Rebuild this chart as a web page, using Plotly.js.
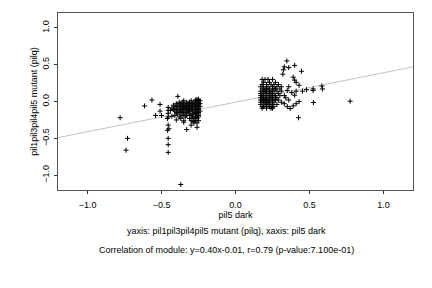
<!DOCTYPE html>
<html>
<head>
<meta charset="utf-8">
<script src="https://cdn.plot.ly/plotly-3.0.1.min.js"></script>
<style>html,body{margin:0;padding:0;background:#fff;}#chart{width:432px;height:288px;}</style>
</head>
<body>
<div id="chart"></div>
<script>
// Data: [pil5 dark, pil1pil3pil4pil5 mutant (pilq)]
const leftOutliers = [
  [-0.78,-0.22],[-0.73,-0.50],[-0.74,-0.66],[-0.615,-0.06],[-0.565,0.02],[-0.54,-0.19],
  [-0.51,-0.04],[-0.51,-0.13],[-0.50,-0.19],[-0.39,0.07],[-0.37,-1.125],
  [-0.455,-0.08],[-0.455,-0.12],[-0.455,-0.16],[-0.455,-0.21],[-0.46,-0.23],[-0.455,-0.32],
  [-0.45,-0.37],[-0.46,-0.39],[-0.455,-0.50],[-0.455,-0.585],[-0.455,-0.69],
  [-0.33,-0.38],[-0.30,-0.32],[-0.26,-0.35],[-0.286,-0.27],[-0.44,-0.12],[-0.43,-0.20],
  [-0.40,-0.25],[-0.35,-0.28]
];
const leftCluster = [
  [-0.26,0.03],[-0.25,0.03],[-0.27,0.02],
  [-0.35,0.01],[-0.30,0.01],[-0.27,0.01],[-0.25,0.01],[-0.24,0.01],
  [-0.38,-0.01],[-0.36,-0.01],[-0.33,-0.01],[-0.31,-0.01],[-0.28,-0.01],[-0.26,-0.01],[-0.25,-0.01],
  [-0.40,-0.03],[-0.37,-0.03],[-0.35,-0.03],[-0.32,-0.03],[-0.30,-0.03],[-0.29,-0.03],[-0.27,-0.03],[-0.25,-0.03],[-0.24,-0.03],
  [-0.42,-0.05],[-0.39,-0.05],[-0.36,-0.05],[-0.34,-0.05],[-0.33,-0.05],[-0.31,-0.05],[-0.28,-0.05],[-0.26,-0.05],[-0.25,-0.05],
  [-0.41,-0.07],[-0.38,-0.07],[-0.37,-0.07],[-0.35,-0.07],[-0.32,-0.07],[-0.30,-0.07],[-0.29,-0.07],[-0.27,-0.07],[-0.24,-0.07],
  [-0.43,-0.09],[-0.40,-0.09],[-0.36,-0.09],[-0.34,-0.09],[-0.33,-0.09],[-0.31,-0.09],[-0.28,-0.09],[-0.26,-0.09],[-0.25,-0.09],
  [-0.42,-0.11],[-0.39,-0.11],[-0.37,-0.11],[-0.35,-0.11],[-0.32,-0.11],[-0.30,-0.11],[-0.27,-0.11],[-0.25,-0.11],
  [-0.41,-0.13],[-0.38,-0.13],[-0.36,-0.13],[-0.33,-0.13],[-0.31,-0.13],[-0.29,-0.13],[-0.26,-0.13],[-0.24,-0.13],
  [-0.40,-0.15],[-0.37,-0.15],[-0.34,-0.15],[-0.32,-0.15],[-0.28,-0.15],[-0.26,-0.15],[-0.25,-0.15],
  [-0.39,-0.17],[-0.35,-0.17],[-0.31,-0.17],[-0.29,-0.17],[-0.27,-0.17],[-0.25,-0.17],
  [-0.41,-0.19],[-0.36,-0.19],[-0.33,-0.19],[-0.30,-0.19],[-0.26,-0.19],[-0.25,-0.19],
  [-0.38,-0.21],[-0.34,-0.21],[-0.29,-0.21],[-0.27,-0.21],[-0.25,-0.21],
  [-0.37,-0.23],[-0.31,-0.23],[-0.28,-0.23],[-0.26,-0.23],
  [-0.35,-0.26],[-0.30,-0.26],[-0.27,-0.26],[-0.25,-0.26],
  [-0.28,-0.29],[-0.26,-0.29]
];
const rightCluster = [
  [0.18,0.30],[0.20,0.30],[0.22,0.30],[0.25,0.30],
  [0.19,0.26],[0.23,0.26],[0.27,0.26],
  [0.18,0.23],[0.21,0.23],[0.24,0.23],[0.26,0.23],[0.29,0.23],
  [0.17,0.20],[0.19,0.20],[0.22,0.20],[0.25,0.20],[0.28,0.20],[0.31,0.20],
  [0.18,0.17],[0.20,0.17],[0.21,0.17],[0.23,0.17],[0.26,0.17],[0.27,0.17],[0.30,0.17],
  [0.17,0.14],[0.19,0.14],[0.20,0.14],[0.22,0.14],[0.24,0.14],[0.25,0.14],[0.28,0.14],[0.31,0.14],
  [0.17,0.11],[0.18,0.11],[0.20,0.11],[0.21,0.11],[0.23,0.11],[0.24,0.11],[0.26,0.11],[0.29,0.11],
  [0.17,0.08],[0.18,0.08],[0.19,0.08],[0.21,0.08],[0.22,0.08],[0.24,0.08],[0.25,0.08],[0.27,0.08],[0.30,0.08],[0.33,0.08],
  [0.17,0.05],[0.18,0.05],[0.20,0.05],[0.21,0.05],[0.23,0.05],[0.24,0.05],[0.26,0.05],[0.28,0.05],
  [0.17,0.02],[0.18,0.02],[0.19,0.02],[0.20,0.02],[0.22,0.02],[0.23,0.02],[0.25,0.02],[0.27,0.02],[0.29,0.02],
  [0.17,-0.01],[0.18,-0.01],[0.20,-0.01],[0.21,-0.01],[0.22,-0.01],[0.24,-0.01],[0.26,-0.01],[0.31,-0.01],
  [0.17,-0.04],[0.19,-0.04],[0.20,-0.04],[0.22,-0.04],[0.23,-0.04],[0.25,-0.04],[0.28,-0.04],
  [0.18,-0.07],[0.19,-0.07],[0.21,-0.07],[0.23,-0.07],[0.24,-0.07],[0.26,-0.07],
  [0.18,-0.09],[0.21,-0.09],[0.24,-0.09],[0.25,-0.09]
];
const rightOutliers = [
  [0.347,0.55],[0.33,0.47],[0.36,0.46],[0.40,0.49],[0.324,0.43],[0.446,0.41],[0.32,0.37],
  [0.39,0.33],[0.40,0.29],[0.41,0.26],[0.43,0.22],[0.36,0.20],[0.35,0.15],[0.38,0.12],
  [0.453,0.14],[0.48,0.16],[0.525,0.17],[0.525,0.15],[0.584,0.21],[0.588,0.17],
  [0.527,-0.014],[0.775,0.004],[0.426,-0.22],[0.37,-0.095],[0.39,-0.06],[0.41,-0.03],
  [0.43,0.00],[0.40,0.085],[0.41,0.14],[0.34,0.05],[0.36,0.02],[0.33,-0.03],[0.35,-0.07]
];
const slope = 0.40, intercept = -0.01;
const xRange = [-1.2, 1.2], yRange = [-1.2, 1.2];
const tickValues = [-1.0, -0.5, 0.0, 0.5, 1.0];
const xTitle = 'pil5 dark';
const yTitle = 'pil1pil3pil4pil5 mutant (pilq)';
const caption1 = 'yaxis: pil1pil3pil4pil5 mutant (pilq), xaxis: pil5 dark';
const caption2 = 'Correlation of module: y=0.40x-0.01, r=0.79 (p-value:7.100e-01)';

const allPts = leftOutliers.concat(leftCluster, rightCluster, rightOutliers);
const font = {family: 'Liberation Sans, Arial, sans-serif', size: 9, color: '#000'};

const traces = [
  {
    x: xRange, y: xRange.map(v => slope * v + intercept),
    mode: 'lines', line: {color: '#c4c4c4', width: 1}, hoverinfo: 'skip'
  },
  {
    x: allPts.map(p => p[0]), y: allPts.map(p => p[1]),
    mode: 'markers', type: 'scatter',
    marker: {symbol: 'cross-thin', size: 3.6, color: '#000', line: {color: '#000', width: 1}}
  }
];
const axisCommon = {
  showgrid: false, zeroline: false, showline: true, mirror: true,
  linecolor: '#555', linewidth: 1, ticks: 'outside', ticklen: 3, tickcolor: '#333',
  tickvals: tickValues, tickformat: '.1f', tickfont: font
};
const layout = {
  width: 432, height: 288,
  margin: {l: 58, r: 19, t: 13, b: 98},
  paper_bgcolor: '#fff', plot_bgcolor: '#fff',
  showlegend: false, font: font,
  xaxis: Object.assign({}, axisCommon, {range: xRange, ticklabelstandoff: 3, title: {text: xTitle, font: font, standoff: 1}}),
  yaxis: Object.assign({}, axisCommon, {range: yRange, tickangle: -90, ticklabelstandoff: 1, title: {text: yTitle, font: font, standoff: 2}}),
  annotations: [
    {text: caption1, xref: 'paper', yref: 'paper', x: 0.475, y: -0.232, xanchor: 'center', yanchor: 'middle', showarrow: false, font: font},
    {text: caption2, xref: 'paper', yref: 'paper', x: 0.475, y: -0.339, xanchor: 'center', yanchor: 'middle', showarrow: false, font: font}
  ]
};
Plotly.newPlot('chart', traces, layout, {staticPlot: true, displayModeBar: false});
</script>
</body>
</html>
